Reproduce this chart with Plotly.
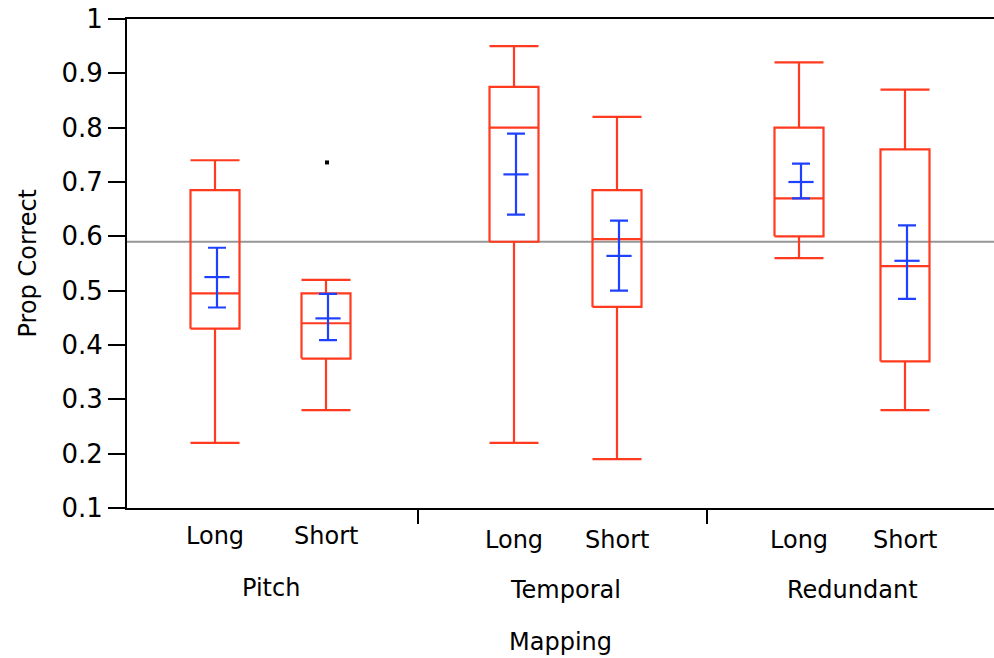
import plotly.graph_objects as go

# ---------------- data ----------------
mappings = ["Pitch", "Pitch", "Temporal", "Temporal", "Redundant", "Redundant"]
lengths = ["Long", "Short", "Long", "Short", "Long", "Short"]
whisker_low = [0.22, 0.28, 0.22, 0.19, 0.56, 0.28]
q1 = [0.43, 0.375, 0.59, 0.47, 0.60, 0.37]
median = [0.495, 0.44, 0.80, 0.595, 0.67, 0.545]
q3 = [0.685, 0.495, 0.875, 0.685, 0.80, 0.76]
whisker_high = [0.74, 0.52, 0.95, 0.82, 0.92, 0.87]
means = [0.525, 0.449, 0.714, 0.564, 0.70, 0.555]
ci_low = [0.469, 0.409, 0.640, 0.50, 0.67, 0.485]
ci_high = [0.579, 0.494, 0.789, 0.629, 0.734, 0.62]
outlier_box = [1]
outlier_val = [0.736]
grand_mean = 0.59
y_ticks = [0.1, 0.2, 0.3, 0.4, 0.5, 0.6, 0.7, 0.8, 0.9, 1.0]
y_tick_text = ["0.1", "0.2", "0.3", "0.4", "0.5", "0.6", "0.7", "0.8", "0.9", "1"]
group_names = ["Pitch", "Temporal", "Redundant"]

# ---------------- layout constants ----------------
x_pos = [88, 199, 387, 490, 672, 778]
x_range = [0, 867]
sep_pos = [291, 580]
half_w = 24.5
mean_off = 2
RED = "rgb(255,58,30)"
BLUE = "rgb(30,64,255)"
FONT = "DejaVu Sans"
TXT = 24

fig = go.Figure()

# red box-and-whisker outlines
xs, ys = [], []
for i, x in enumerate(x_pos):
    l, r = x - half_w, x + half_w
    xs += [l, r, r, l, l, None]; ys += [q1[i], q1[i], q3[i], q3[i], q1[i], None]
    xs += [l, r, None]; ys += [median[i], median[i], None]
    xs += [x, x, None]; ys += [q3[i], whisker_high[i], None]
    xs += [x, x, None]; ys += [q1[i], whisker_low[i], None]
    xs += [l, r, None]; ys += [whisker_high[i], whisker_high[i], None]
    xs += [l, r, None]; ys += [whisker_low[i], whisker_low[i], None]
fig.add_trace(go.Scatter(x=xs, y=ys, mode="lines", line=dict(color=RED, width=2.2),
                         hoverinfo="skip", showlegend=False))

# blue mean and confidence interval
fig.add_trace(go.Scatter(
    x=[x + mean_off for x in x_pos], y=means, mode="markers",
    marker=dict(symbol="line-ew", size=18, line=dict(color=BLUE, width=2.2)),
    error_y=dict(type="data", symmetric=False,
                 array=[h - m for h, m in zip(ci_high, means)],
                 arrayminus=[m - l for m, l in zip(means, ci_low)],
                 color=BLUE, thickness=2.2, width=9),
    showlegend=False))

# outlier
fig.add_trace(go.Scatter(x=[x_pos[i] + 1 for i in outlier_box], y=outlier_val, mode="markers",
                         marker=dict(symbol="square", size=4, color="black"), showlegend=False))

# grand mean line
fig.add_shape(type="line", xref="paper", x0=0, x1=1, yref="y", y0=grand_mean, y1=grand_mean,
              line=dict(color="rgb(150,150,150)", width=2), layer="below")

# group separator ticks
for s in sep_pos:
    fig.add_shape(type="line", xref="x", x0=s, x1=s, yref="paper", y0=0, y1=-16 / 489,
                  line=dict(color="black", width=2))

# category labels
for i, x in enumerate(x_pos):
    shift = -28 if mappings[i] == "Pitch" else -32
    fig.add_annotation(x=x, y=0, xref="x", yref="paper", text=lengths[i], showarrow=False,
                       yanchor="middle", yshift=shift,
                       font=dict(family=FONT, size=TXT, color="black"))
for g, name in enumerate(group_names):
    gx = (x_pos[2 * g] + x_pos[2 * g + 1]) / 2
    shift = -80 if g == 0 else -82
    fig.add_annotation(x=gx, y=0, xref="x", yref="paper", text=name, showarrow=False,
                       yanchor="middle", yshift=shift,
                       font=dict(family=FONT, size=TXT, color="black"))
fig.add_annotation(x=(x_range[0] + x_range[1]) / 2, y=0, xref="x", yref="paper", text="Mapping",
                   showarrow=False, yanchor="middle", yshift=-134,
                   font=dict(family=FONT, size=TXT, color="black"))
fig.add_annotation(x=-100 / 867, y=0.5, xref="paper", yref="paper", text="Prop Correct",
                   textangle=-90, showarrow=False, xanchor="center", yanchor="middle",
                   font=dict(family=FONT, size=TXT, color="black"))

fig.update_layout(
    width=994, height=658,
    margin=dict(l=127, r=0, t=19, b=150),
    paper_bgcolor="white", plot_bgcolor="white",
    xaxis=dict(range=x_range, showgrid=False, zeroline=False, showticklabels=False,
               ticks="", showline=True, mirror=True, linecolor="black", linewidth=2),
    yaxis=dict(range=[0.1, 1.0], tickvals=y_ticks, ticktext=y_tick_text, showgrid=False,
               zeroline=False, ticks="outside", ticklen=17, tickwidth=2, tickcolor="black",
               showline=True, linecolor="black", linewidth=2,
               tickfont=dict(family=FONT, size=26, color="black")),
    font=dict(family=FONT, color="black"),
)

fig.write_html("out.html")
